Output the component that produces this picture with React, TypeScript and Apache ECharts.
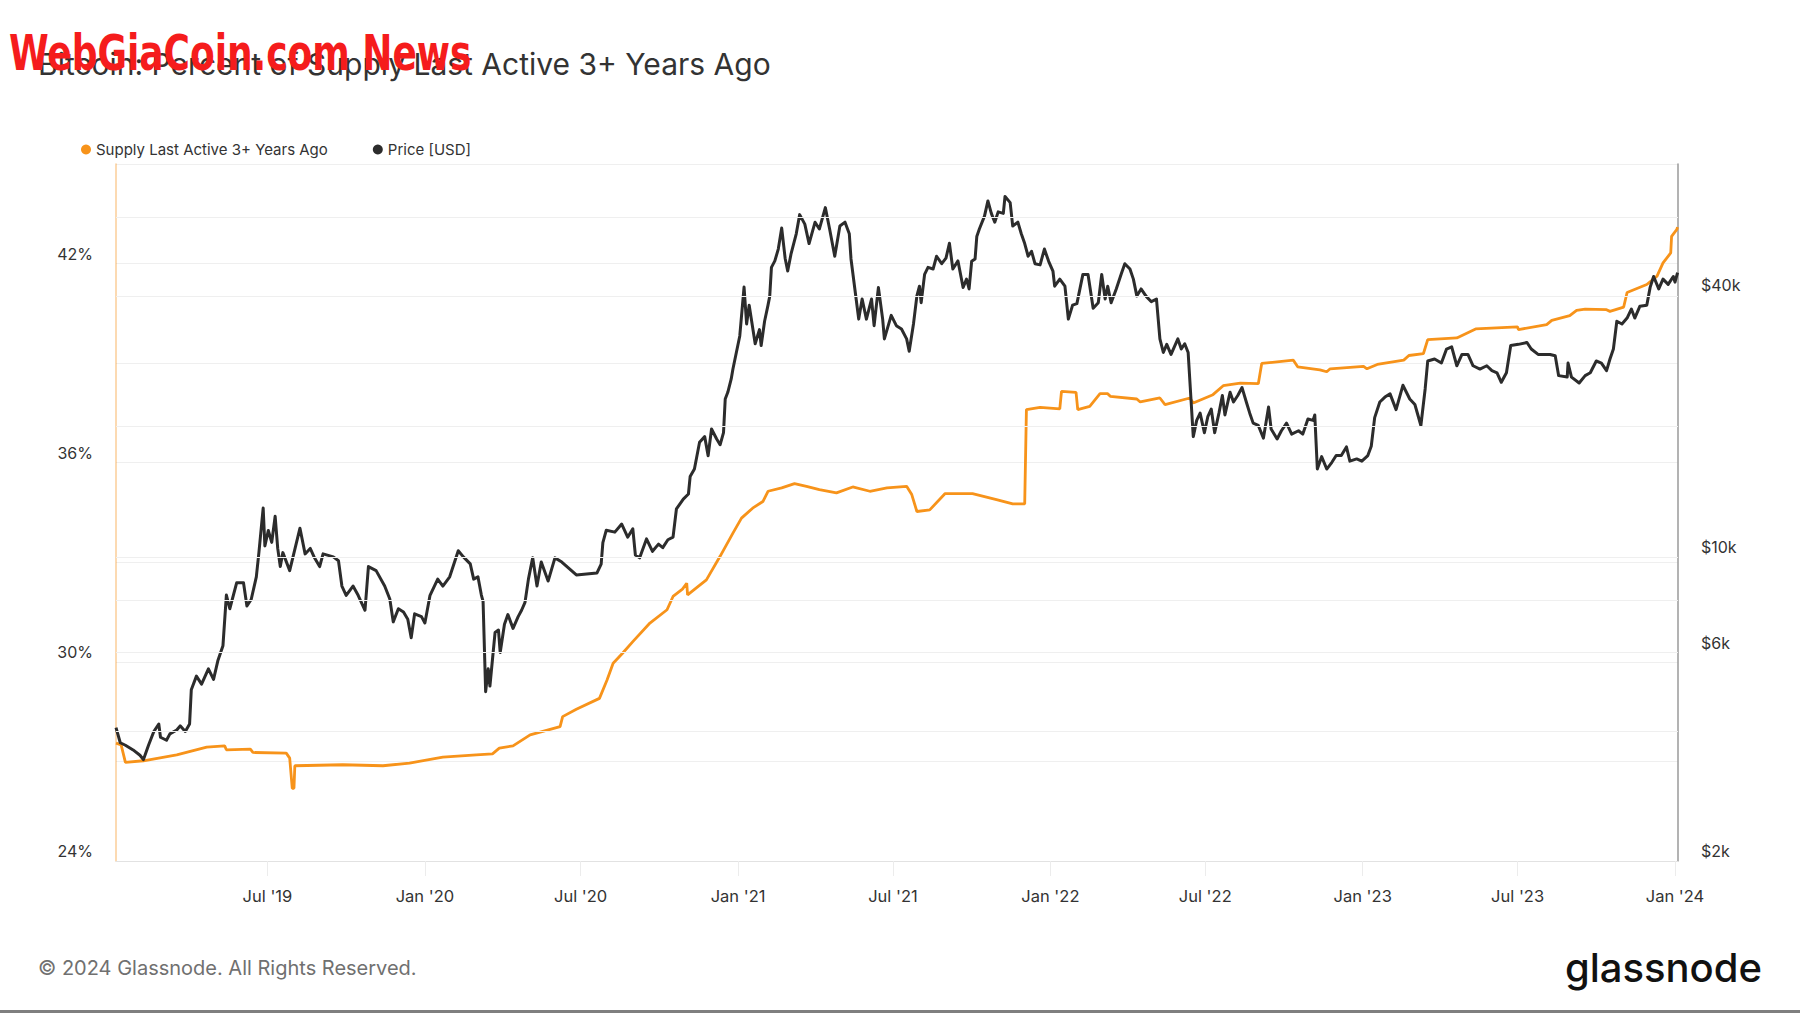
import React, { useEffect, useRef } from 'react';
import * as echarts from 'echarts';

// Percent of BTC supply last active 3+ years ago (%)
const supplyData: [string, number][] = [
  ['2019-01-05', 27.55], ['2019-01-11', 27.5], ['2019-01-16', 26.97], ['2019-02-06', 27.02],
  ['2019-03-17', 27.2], ['2019-04-21', 27.43], ['2019-05-12', 27.47], ['2019-05-14', 27.35],
  ['2019-06-11', 27.37], ['2019-06-14', 27.27], ['2019-07-23', 27.25], ['2019-07-27', 27.1],
  ['2019-07-30', 26.19], ['2019-08-01', 26.19], ['2019-08-02', 26.87], ['2019-09-27', 26.9],
  ['2019-11-13', 26.87], ['2019-12-14', 26.95], ['2020-01-22', 27.13], ['2020-03-01', 27.2],
  ['2020-03-20', 27.23], ['2020-03-28', 27.4], ['2020-04-13', 27.47], ['2020-05-03', 27.8],
  ['2020-06-07', 28.05], ['2020-06-10', 28.35], ['2020-06-26', 28.57], ['2020-07-23', 28.9],
  ['2020-08-01', 29.46], ['2020-08-08', 29.96], ['2020-08-19', 30.26], ['2020-08-31', 30.61],
  ['2020-09-20', 31.17], ['2020-10-10', 31.57], ['2020-10-17', 31.97], ['2020-10-28', 32.19],
  ['2020-11-02', 32.37], ['2020-11-03', 32.02], ['2020-11-25', 32.47], ['2020-12-11', 33.18],
  ['2020-12-26', 33.88], ['2021-01-05', 34.33], ['2021-01-18', 34.63], ['2021-01-30', 34.83],
  ['2021-02-05', 35.14], ['2021-02-21', 35.24], ['2021-03-08', 35.37], ['2021-03-22', 35.29],
  ['2021-04-06', 35.19], ['2021-04-26', 35.09], ['2021-05-15', 35.27], ['2021-06-04', 35.14],
  ['2021-06-24', 35.24], ['2021-07-17', 35.29], ['2021-07-23', 35.04], ['2021-07-29', 34.53],
  ['2021-08-13', 34.58], ['2021-08-31', 35.07], ['2021-10-02', 35.07], ['2021-10-30', 34.89],
  ['2021-11-18', 34.76], ['2021-12-02', 34.76], ['2021-12-04', 37.6], ['2021-12-20', 37.67],
  ['2022-01-12', 37.62], ['2022-01-14', 38.15], ['2022-01-31', 38.12], ['2022-02-02', 37.6],
  ['2022-02-16', 37.7], ['2022-02-28', 38.08], ['2022-03-09', 38.08], ['2022-03-12', 38.0],
  ['2022-04-12', 37.92], ['2022-04-16', 37.83], ['2022-05-09', 37.95], ['2022-05-15', 37.75],
  ['2022-06-13', 37.95], ['2022-06-17', 37.8], ['2022-07-10', 38.05], ['2022-07-22', 38.32],
  ['2022-08-11', 38.4], ['2022-09-01', 38.38], ['2022-09-05', 38.99], ['2022-10-12', 39.09],
  ['2022-10-17', 38.89], ['2022-11-12', 38.8], ['2022-11-20', 38.74], ['2022-11-24', 38.83],
  ['2023-01-02', 38.9], ['2023-01-06', 38.83], ['2023-01-18', 38.96], ['2023-02-18', 39.09],
  ['2023-02-24', 39.23], ['2023-03-13', 39.29], ['2023-03-18', 39.71], ['2023-04-21', 39.76],
  ['2023-05-13', 40.03], ['2023-07-01', 40.09], ['2023-07-02', 40.01], ['2023-08-04', 40.16],
  ['2023-08-10', 40.29], ['2023-08-31', 40.43], ['2023-09-08', 40.59], ['2023-09-18', 40.63],
  ['2023-10-13', 40.61], ['2023-10-17', 40.56], ['2023-11-02', 40.69], ['2023-11-06', 41.13],
  ['2023-11-29', 41.37], ['2023-12-11', 41.62], ['2023-12-18', 42.02], ['2023-12-27', 42.32],
  ['2023-12-28', 42.82], ['2024-01-03', 43.02], ['2024-01-04', 43.1],
];

// BTC price (USD)
const priceData: [string, number][] = [
  ['2019-01-05', 4050], ['2019-01-10', 3740], ['2019-01-16', 3690], ['2019-01-25', 3600],
  ['2019-02-02', 3500], ['2019-02-06', 3420], ['2019-02-12', 3690], ['2019-02-18', 3960],
  ['2019-02-24', 4130], ['2019-02-26', 3850], ['2019-03-05', 3790], ['2019-03-09', 3920],
  ['2019-03-17', 4000], ['2019-03-21', 4090], ['2019-03-27', 3970], ['2019-04-01', 4130],
  ['2019-04-03', 4950], ['2019-04-09', 5320], ['2019-04-15', 5100], ['2019-04-23', 5530],
  ['2019-04-29', 5230], ['2019-05-04', 5770], ['2019-05-10', 6250], ['2019-05-14', 8170],
  ['2019-05-18', 7600], ['2019-05-26', 8720], ['2019-06-03', 8720], ['2019-06-07', 7710],
  ['2019-06-12', 7980], ['2019-06-18', 9000], ['2019-06-21', 10230], ['2019-06-26', 12950],
  ['2019-06-28', 10600], ['2019-07-02', 11500], ['2019-07-06', 10800], ['2019-07-10', 12400],
  ['2019-07-13', 10460], ['2019-07-16', 9500], ['2019-07-19', 10230], ['2019-07-27', 9300],
  ['2019-08-08', 11640], ['2019-08-14', 10160], ['2019-08-20', 10460], ['2019-08-25', 9950],
  ['2019-08-31', 9500], ['2019-09-04', 10160], ['2019-09-16', 10000], ['2019-09-22', 9800],
  ['2019-09-26', 8570], ['2019-10-01', 8160], ['2019-10-09', 8570], ['2019-10-15', 8160],
  ['2019-10-23', 7540], ['2019-10-27', 9500], ['2019-11-05', 9300], ['2019-11-15', 8570],
  ['2019-11-21', 8000], ['2019-11-25', 7090], ['2019-12-01', 7600], ['2019-12-07', 7470],
  ['2019-12-12', 7190], ['2019-12-16', 6520], ['2019-12-20', 7400], ['2019-12-28', 7290],
  ['2020-01-01', 7050], ['2020-01-07', 8160], ['2020-01-16', 8890], ['2020-01-22', 8570],
  ['2020-01-30', 9000], ['2020-02-09', 10330], ['2020-02-15', 10000], ['2020-02-23', 9640],
  ['2020-02-27', 8890], ['2020-03-03', 9000], ['2020-03-07', 8170], ['2020-03-09', 7900],
  ['2020-03-12', 4900], ['2020-03-15', 5530], ['2020-03-17', 5050], ['2020-03-23', 6700],
  ['2020-03-27', 6790], ['2020-03-29', 6030], ['2020-04-03', 7000], ['2020-04-07', 7370],
  ['2020-04-13', 6850], ['2020-04-19', 7290], ['2020-04-23', 7540], ['2020-04-27', 7860],
  ['2020-05-01', 8890], ['2020-05-06', 9960], ['2020-05-11', 8570], ['2020-05-16', 9730],
  ['2020-05-24', 8800], ['2020-06-01', 9950], ['2020-06-09', 9730], ['2020-06-26', 9090],
  ['2020-07-20', 9180], ['2020-07-25', 9630], ['2020-07-27', 10790], ['2020-07-31', 11520],
  ['2020-08-10', 11400], ['2020-08-18', 11900], ['2020-08-25', 11100], ['2020-08-31', 11600],
  ['2020-09-03', 10100], ['2020-09-08', 9950], ['2020-09-16', 11000], ['2020-09-23', 10300],
  ['2020-09-30', 10700], ['2020-10-05', 10500], ['2020-10-11', 10950], ['2020-10-17', 11100],
  ['2020-10-21', 12900], ['2020-10-29', 13580], ['2020-11-04', 13950], ['2020-11-06', 15300],
  ['2020-11-11', 15920], ['2020-11-17', 18350], ['2020-11-23', 18900], ['2020-11-27', 17080],
  ['2020-12-01', 19680], ['2020-12-07', 18660], ['2020-12-11', 18100], ['2020-12-15', 19300],
  ['2020-12-17', 23060], ['2020-12-20', 23900], ['2020-12-24', 25640], ['2020-12-26', 27030],
  ['2020-12-30', 29500], ['2021-01-03', 32200], ['2021-01-08', 41700], ['2021-01-11', 34300],
  ['2021-01-14', 37900], ['2021-01-21', 30900], ['2021-01-26', 33300], ['2021-01-28', 30600],
  ['2021-02-01', 34800], ['2021-02-05', 37900], ['2021-02-07', 39700], ['2021-02-09', 46300],
  ['2021-02-13', 47900], ['2021-02-17', 51000], ['2021-02-21', 57000], ['2021-02-25', 48600],
  ['2021-02-28', 45400], ['2021-03-04', 49800], ['2021-03-10', 55300], ['2021-03-14', 61200],
  ['2021-03-20', 58200], ['2021-03-25', 52500], ['2021-04-01', 58800], ['2021-04-06', 56700],
  ['2021-04-13', 63500], ['2021-04-18', 56700], ['2021-04-24', 49100], ['2021-04-30', 57600],
  ['2021-05-06', 58800], ['2021-05-11', 55300], ['2021-05-13', 48400], ['2021-05-19', 39150],
  ['2021-05-22', 35200], ['2021-05-26', 39150], ['2021-05-31', 35200], ['2021-06-06', 39150],
  ['2021-06-09', 34000], ['2021-06-14', 41600], ['2021-06-19', 35200], ['2021-06-21', 31700],
  ['2021-06-29', 35900], ['2021-07-05', 34000], ['2021-07-11', 33400], ['2021-07-17', 31700],
  ['2021-07-20', 29700], ['2021-07-25', 34300], ['2021-07-29', 39800], ['2021-08-01', 41900],
  ['2021-08-03', 38400], ['2021-08-07', 44600], ['2021-08-11', 46300], ['2021-08-17', 45900],
  ['2021-08-21', 49100], ['2021-08-27', 47200], ['2021-09-01', 48600], ['2021-09-05', 52600],
  ['2021-09-09', 45900], ['2021-09-15', 47900], ['2021-09-21', 41600], ['2021-09-25', 43500],
  ['2021-09-28', 41300], ['2021-10-01', 47800], ['2021-10-05', 48400], ['2021-10-07', 54500],
  ['2021-10-10', 56700], ['2021-10-16', 60700], ['2021-10-20', 65800], ['2021-10-24', 61600],
  ['2021-10-28', 58800], ['2021-11-01', 62100], ['2021-11-07', 61600], ['2021-11-09', 67400],
  ['2021-11-15', 65200], ['2021-11-18', 57600], ['2021-11-24', 58800], ['2021-11-28', 55300],
  ['2021-12-02', 52500], ['2021-12-06', 49100], ['2021-12-10', 50400], ['2021-12-14', 47200],
  ['2021-12-20', 46900], ['2021-12-25', 51000], ['2021-12-30', 47800], ['2022-01-04', 45400],
  ['2022-01-06', 41900], ['2022-01-12', 43500], ['2022-01-18', 41900], ['2022-01-22', 35200],
  ['2022-01-27', 37900], ['2022-02-01', 38200], ['2022-02-08', 44600], ['2022-02-14', 44600],
  ['2022-02-20', 37300], ['2022-02-26', 38400], ['2022-03-02', 44600], ['2022-03-06', 39150],
  ['2022-03-09', 41900], ['2022-03-13', 38400], ['2022-03-19', 41300], ['2022-03-25', 44800],
  ['2022-03-29', 47200], ['2022-04-04', 45900], ['2022-04-08', 43500], ['2022-04-12', 39800],
  ['2022-04-17', 41300], ['2022-04-23', 39700], ['2022-04-29', 38600], ['2022-05-05', 39150],
  ['2022-05-09', 31700], ['2022-05-13', 29500], ['2022-05-17', 30800], ['2022-05-22', 29200],
  ['2022-05-30', 31700], ['2022-06-03', 30050], ['2022-06-07', 30900], ['2022-06-11', 29500],
  ['2022-06-17', 18900], ['2022-06-21', 20600], ['2022-06-25', 21400], ['2022-06-30', 19300],
  ['2022-07-04', 21000], ['2022-07-08', 21870], ['2022-07-12', 19300], ['2022-07-17', 21400],
  ['2022-07-21', 23500], ['2022-07-24', 21200], ['2022-07-30', 23900], ['2022-08-03', 22700],
  ['2022-08-08', 23500], ['2022-08-13', 24500], ['2022-08-18', 22700], ['2022-08-22', 21400],
  ['2022-08-26', 20300], ['2022-09-01', 20050], ['2022-09-07', 18750], ['2022-09-13', 22100],
  ['2022-09-16', 19680], ['2022-09-23', 18660], ['2022-09-28', 19500], ['2022-10-04', 20300],
  ['2022-10-10', 19150], ['2022-10-18', 19500], ['2022-10-23', 19150], ['2022-10-29', 20750],
  ['2022-11-04', 20600], ['2022-11-06', 21200], ['2022-11-09', 15920], ['2022-11-14', 17000],
  ['2022-11-20', 15920], ['2022-11-26', 16500], ['2022-12-01', 17100], ['2022-12-07', 17100],
  ['2022-12-13', 17900], ['2022-12-17', 16600], ['2022-12-25', 16800], ['2022-12-31', 16600],
  ['2023-01-07', 17100], ['2023-01-11', 17960], ['2023-01-15', 20900], ['2023-01-21', 22700],
  ['2023-01-27', 23300], ['2023-02-02', 23700], ['2023-02-09', 21800], ['2023-02-17', 24800],
  ['2023-02-25', 23060], ['2023-03-03', 22400], ['2023-03-10', 20050], ['2023-03-15', 24320],
  ['2023-03-18', 28200], ['2023-03-26', 28500], ['2023-04-03', 27900], ['2023-04-09', 30050],
  ['2023-04-15', 30400], ['2023-04-21', 27500], ['2023-04-27', 29200], ['2023-05-04', 29200],
  ['2023-05-10', 27500], ['2023-05-18', 27030], ['2023-05-26', 27500], ['2023-06-01', 26800],
  ['2023-06-07', 26500], ['2023-06-12', 25200], ['2023-06-18', 26500], ['2023-06-23', 30600],
  ['2023-07-02', 30800], ['2023-07-12', 31100], ['2023-07-17', 30050], ['2023-07-25', 29200],
  ['2023-08-08', 29200], ['2023-08-14', 29000], ['2023-08-18', 26100], ['2023-08-28', 25900],
  ['2023-08-29', 27900], ['2023-09-02', 25900], ['2023-09-11', 25100], ['2023-09-18', 26100],
  ['2023-09-24', 26500], ['2023-10-01', 28200], ['2023-10-07', 27900], ['2023-10-13', 26800],
  ['2023-10-17', 28500], ['2023-10-21', 30050], ['2023-10-25', 34800], ['2023-10-31', 34300],
  ['2023-11-06', 35400], ['2023-11-11', 37130], ['2023-11-15', 35400], ['2023-11-21', 37700],
  ['2023-11-29', 37900], ['2023-12-03', 41700], ['2023-12-07', 44100], ['2023-12-13', 41300],
  ['2023-12-18', 43500], ['2023-12-24', 42300], ['2023-12-30', 44100], ['2024-01-01', 42800],
  ['2024-01-04', 45000],
];

const xRange = ['2019-01-05', '2024-01-04'];
const xTickDates = [
  '2019-07-01', '2020-01-01', '2020-07-01', '2021-01-01', '2021-07-01',
  '2022-01-01', '2022-07-01', '2023-01-01', '2023-07-01', '2024-01-01',
];
const xTickLabels = [
  "Jul '19", "Jan '20", "Jul '20", "Jan '21", "Jul '21",
  "Jan '22", "Jul '22", "Jan '23", "Jul '23", "Jan '24",
];
const leftRange = [24, 45];
const leftStep = 3;
const leftTickValues = [24, 30, 36, 42];
const rightRange = [2000, 80000];
const rightTickValues = [2000, 6000, 10000, 40000];
const rightTickLabels = ['$2k', '$6k', '$10k', '$40k'];
const rightGridValues = [2000, 4000, 6000, 8000, 10000, 20000, 40000, 60000];

const SUPPLY_NAME = 'Supply Last Active 3+ Years Ago';
const PRICE_NAME = 'Price [USD]';
const FONT = 'Inter, "Noto Sans", sans-serif';

const ts = (s: string) => {
  const [y, m, d] = s.split('-').map(Number);
  return Date.UTC(y, m - 1, d);
};

const nearestIndex = (arr: number[], v: number) => {
  let best = 0;
  for (let i = 1; i < arr.length; i++) {
    if (Math.abs(arr[i] - v) < Math.abs(arr[best] - v)) best = i;
  }
  return best;
};

export default function App() {
  const ref = useRef<HTMLDivElement>(null);

  useEffect(() => {
    if (!ref.current) return;
    const chart = echarts.init(ref.current, null, { renderer: 'svg' });

    const xTickTs = xTickDates.map(ts);
    const xMin = ts(xRange[0]);
    const xMax = ts(xRange[1]) + 12 * 3600 * 1000;
    const rightTickLog = rightTickValues.map((v) => Math.log10(v));

    const option: any = {
      animation: false,
      backgroundColor: '#ffffff',
      textStyle: { fontFamily: FONT },
      grid: { left: 116, right: 122, top: 164, bottom: 152, containLabel: false },
      legend: {
        data: [SUPPLY_NAME, PRICE_NAME],
        left: 76,
        top: 137,
        icon: 'circle',
        itemWidth: 10,
        itemHeight: 10,
        itemGap: 45,
        selectedMode: false,
        textStyle: { fontSize: 15, color: '#333333', fontFamily: FONT },
      },
      xAxis: {
        type: 'value',
        min: xMin,
        max: xMax,
        axisLine: { show: true, lineStyle: { color: '#e2e2e2', width: 1 } },
        axisTick: {
          show: true,
          customValues: xTickTs,
          length: 15,
          lineStyle: { color: '#ececec', width: 1 },
        },
        axisLabel: {
          customValues: xTickTs,
          margin: 26,
          fontSize: 16.5,
          color: '#333333',
          fontFamily: FONT,
          formatter: (v: number) => {
            const i = nearestIndex(xTickTs, v);
            return Math.abs(xTickTs[i] - v) < 2 * 86400000 ? xTickLabels[i] : '';
          },
        },
        splitLine: { show: false },
      },
      yAxis: [
        {
          type: 'value',
          position: 'left',
          min: leftRange[0],
          max: leftRange[1],
          interval: leftStep,
          axisLine: { show: true, lineStyle: { color: 'rgba(247,147,26,0.45)', width: 1.5 } },
          axisTick: { show: false },
          axisLabel: {
            customValues: leftTickValues,
            margin: 23,
            fontSize: 16,
            color: '#333333',
            fontFamily: FONT,
            verticalAlign: 'bottom',
            padding: [0, 0, 2, 0],
            formatter: (v: number) =>
              leftTickValues.indexOf(Math.round(v)) >= 0 ? `${Math.round(v)}%` : '',
          },
          splitLine: { show: true, lineStyle: { color: '#efefef', width: 1 } },
        },
        {
          type: 'value',
          position: 'right',
          min: Math.log10(rightRange[0]),
          max: Math.log10(rightRange[1]),
          axisLine: { show: true, lineStyle: { color: '#9a9a9a', width: 1.5 } },
          axisTick: { show: false },
          axisLabel: {
            customValues: rightTickLog,
            margin: 23,
            fontSize: 16,
            color: '#333333',
            fontFamily: FONT,
            verticalAlign: 'bottom',
            padding: [0, 0, 2, 0],
            formatter: (v: number) => {
              const i = nearestIndex(rightTickLog, v);
              return Math.abs(rightTickLog[i] - v) < 0.01 ? rightTickLabels[i] : '';
            },
          },
          splitLine: { show: false },
        },
      ],
      series: [
        {
          name: '_priceGrid',
          type: 'line',
          yAxisIndex: 1,
          z: 1,
          silent: true,
          showSymbol: false,
          data: [[xMin, Math.log10(rightRange[0])]],
          lineStyle: { opacity: 0 },
          markLine: {
            silent: true,
            symbol: ['none', 'none'],
            label: { show: false },
            lineStyle: { color: '#efefef', width: 1, type: 'solid' },
            emphasis: { disabled: true },
            data: rightGridValues.map((v) => ({ yAxis: Math.log10(v) })),
          },
        },
        {
          name: SUPPLY_NAME,
          type: 'line',
          yAxisIndex: 0,
          z: 3,
          showSymbol: false,
          color: '#f7931a',
          lineStyle: { color: '#f7931a', width: 2.8 },
          data: supplyData.map(([d, v]) => [ts(d), v]),
        },
        {
          name: PRICE_NAME,
          type: 'line',
          yAxisIndex: 1,
          z: 4,
          showSymbol: false,
          color: '#2c2c2c',
          lineStyle: { color: '#2c2c2c', width: 3, join: 'round' },
          data: priceData.map(([d, v]) => [ts(d), Math.log10(v)]),
        },
      ],
      graphic: [
        {
          type: 'text',
          x: 38,
          y: 64,
          style: {
            text: 'Bitcoin: Percent of Supply Last Active 3+ Years Ago',
            fontSize: 30,
            fontFamily: FONT,
            fill: '#333333',
            verticalAlign: 'middle',
            align: 'left',
          },
        },
        {
          type: 'text',
          x: 9,
          y: 53,
          z: 10,
          scaleX: 0.8,
          style: {
            text: 'WebGiaCoin.com News',
            fontSize: 50,
            fontWeight: 'bold',
            fontFamily: '"Liberation Sans Narrow", "DejaVu Sans Condensed", sans-serif',
            fill: '#f51c1c',
            verticalAlign: 'middle',
            align: 'left',
          },
        },
        {
          type: 'text',
          x: 38,
          y: 968,
          style: {
            text: '\u00A9 2024 Glassnode. All Rights Reserved.',
            fontSize: 20,
            fontFamily: FONT,
            fill: '#707070',
            verticalAlign: 'middle',
            align: 'left',
          },
        },
        {
          type: 'text',
          x: 1762,
          y: 967,
          style: {
            text: 'glassnode',
            fontSize: 40,
            fontWeight: 500,
            fontFamily: FONT,
            fill: '#111111',
            verticalAlign: 'middle',
            align: 'right',
          },
        },
        {
          type: 'rect',
          shape: { x: 0, y: 1010, width: 1800, height: 3 },
          style: { fill: '#7f7f7f' },
        },
      ],
    };

    chart.setOption(option);
    return () => chart.dispose();
  }, []);

  return (
    <div
      ref={ref}
      style={{ position: 'fixed', left: 0, top: 0, width: 1800, height: 1013, background: '#ffffff' }}
    />
  );
}
